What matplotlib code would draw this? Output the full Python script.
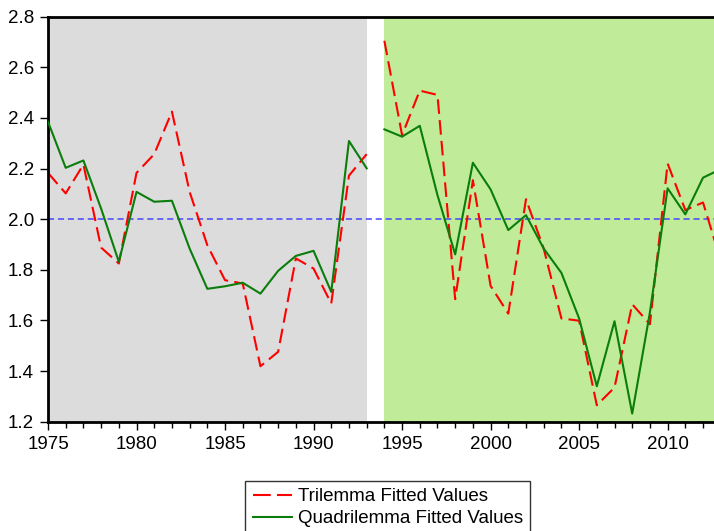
import matplotlib.pyplot as plt
from matplotlib.lines import Line2D
from matplotlib.ticker import MultipleLocator, FormatStrFormatter

plt.rcParams['font.family'] = ['Liberation Sans', 'DejaVu Sans']

# Dados
anos_1 = list(range(1975, 1994))
trilemma_1 = [2.183, 2.102, 2.216, 1.888, 1.825, 2.183, 2.257, 2.425, 2.108, 1.897,
              1.759, 1.746, 1.419, 1.476, 1.845, 1.805, 1.667, 2.172, 2.257]
quadri_1 = [2.385, 2.203, 2.232, 2.042, 1.832, 2.108, 2.069, 2.073, 1.884, 1.725,
            1.735, 1.749, 1.706, 1.796, 1.855, 1.875, 1.713, 2.309, 2.201]

anos_2 = list(range(1994, 2014))
trilemma_2 = [2.705, 2.332, 2.508, 2.491, 1.684, 2.154, 1.737, 1.627, 2.079, 1.884,
              1.608, 1.599, 1.265, 1.335, 1.664, 1.585, 2.220, 2.036, 2.066, 1.837]
quadri_2 = [2.355, 2.326, 2.369, 2.095, 1.861, 2.223, 2.118, 1.957, 2.016, 1.884,
            1.788, 1.608, 1.340, 1.597, 1.232, 1.632, 2.122, 2.019, 2.164, 2.198]

periodo_1 = (1975, 1993)
periodo_2 = (1994, 2013)
referencia = 2.0

fig = plt.figure(figsize=(7.14, 5.31), dpi=100)
ax = fig.add_axes([48 / 714, 1 - 421.7 / 531, 1 - 48 / 714, (421.7 - 16.7) / 531])

ax.axvspan(*periodo_1, color="#dcdcdc", lw=0, zorder=0)
ax.axvspan(*periodo_2, color="#c0eb98", lw=0, zorder=0)
ax.axhline(referencia, color="#4646ff", lw=1.1, ls=(0, (4, 2.5)), zorder=1)

estilo_tri = dict(color="#ff0000", lw=1.5, ls=(0, (7, 3)))
estilo_quad = dict(color="#0a7d0a", lw=1.5)

ax.plot(anos_1, trilemma_1, **estilo_tri, zorder=2)
ax.plot(anos_2, trilemma_2, **estilo_tri, zorder=2)
ax.plot(anos_1, quadri_1, **estilo_quad, zorder=3)
ax.plot(anos_2, quadri_2, **estilo_quad, zorder=3)

ax.set_xlim(1975, 2012.62)
ax.set_ylim(1.2, 2.8)
ax.xaxis.set_major_locator(MultipleLocator(5))
ax.xaxis.set_minor_locator(MultipleLocator(1))
ax.yaxis.set_major_locator(MultipleLocator(0.2))
ax.yaxis.set_major_formatter(FormatStrFormatter("%.1f"))
ax.tick_params(axis="both", which="major", direction="out", length=6, width=1,
               labelsize=13.5, pad=4)
ax.tick_params(axis="x", which="minor", direction="out", length=4, width=1)

for lado in ["left", "bottom", "top"]:
    ax.spines[lado].set_linewidth(2)
ax.spines["right"].set_visible(False)

# legenda com estilo traço-traço-ponto
h1 = Line2D([], [], color="#ff0000", lw=1.5, ls=(0, (8.5, 3, 8.5, 3, 1, 10)))
h2 = Line2D([], [], color="#0a7d0a", lw=1.5)
fig.legend([h1, h2], ["Trilemma Fitted Values", "Quadrilemma Fitted Values"],
           loc="upper left", bbox_to_anchor=(245 / 714, 1 - 480.7 / 531),
           frameon=True, fancybox=False, edgecolor="black", fontsize=13.5,
           handlelength=2.1, handletextpad=0.3, borderpad=0.4, labelspacing=0.25,
           borderaxespad=0)

fig.savefig("out.png", dpi=100)
